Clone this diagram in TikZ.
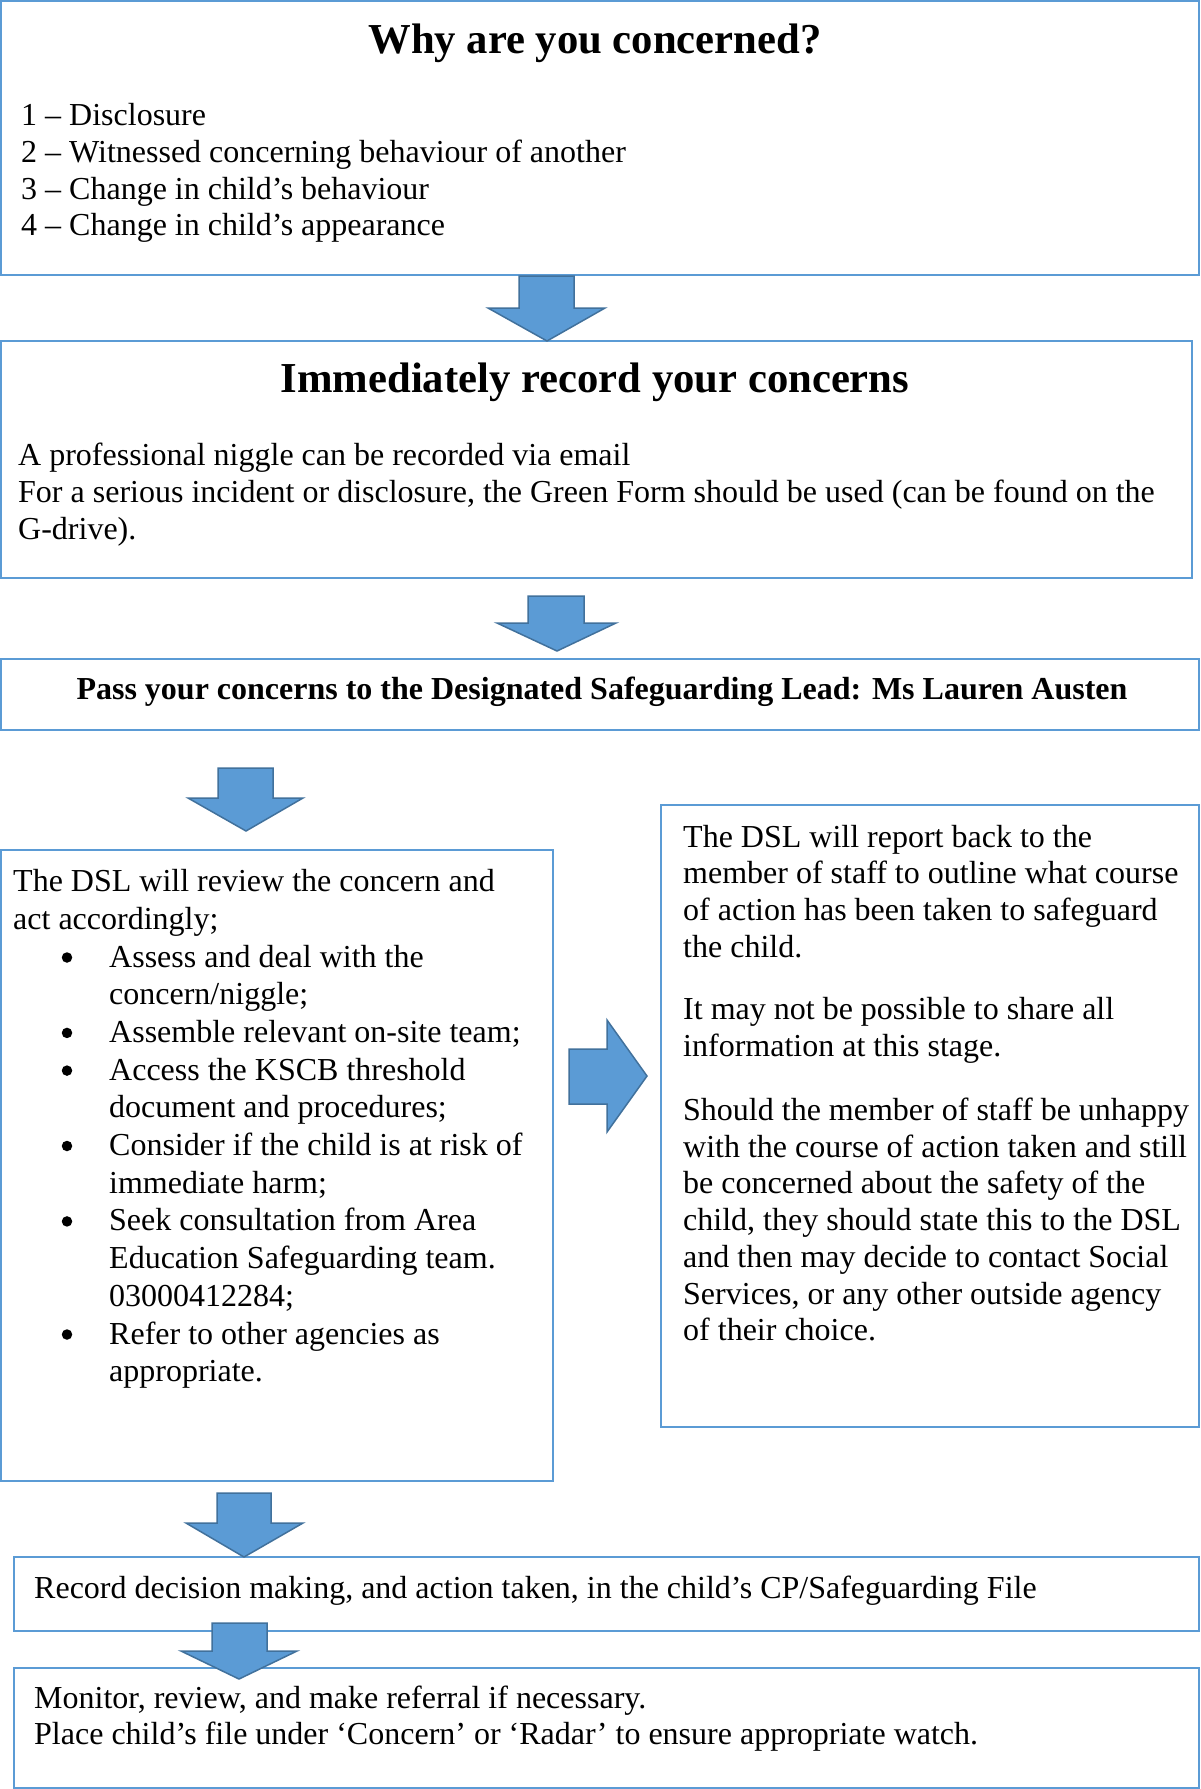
\documentclass[tikz,border=0pt]{standalone}
\usepackage{fontspec}
\setmainfont{Liberation Serif}
\definecolor{boxblue}{RGB}{91,155,213}
\definecolor{arrowfill}{RGB}{91,155,213}
\definecolor{arrowedge}{RGB}{65,113,156}
\tikzset{
  box/.style={draw=boxblue, line width=2.5pt, anchor=north west, inner sep=0pt, outer sep=0pt},
  txt/.style={anchor=base west, inner sep=0pt, font=\fontsize{32}{36.8}\selectfont},
  boldtxt/.style={anchor=base, inner sep=0pt, font=\fontsize{32}{36.8}\selectfont\bfseries},
  ttl/.style={anchor=base, inner sep=0pt, font=\fontsize{42.67}{49}\selectfont\bfseries},
  bulletdot/.style={circle, fill=black, draw=none, inner sep=0pt, minimum size=10.5pt},
  blk/.style={fill=arrowfill, draw=arrowedge, line width=1.5pt, line join=miter},
}
% shaft left, shaft right, top, shoulder, head left, head right, tip x, tip y
\newcommand\blkdown[8]{\draw[blk] (#1,#3) -- (#2,#3) -- (#2,#4) -- (#6,#4) -- (#7,#8) -- (#5,#4) -- (#1,#4) -- cycle;}
\begin{document}
\begin{tikzpicture}[x=1pt,y=-1pt]
\useasboundingbox (0,0) rectangle (1201,1789);
\fill[white] (0,0) rectangle (1201,1789);

% boxes
\node[box, minimum width=1198pt, minimum height=274pt] (b1) at (1,1) {};
\node[box, minimum width=1191pt, minimum height=237pt] (b2) at (1,341) {};
\node[box, minimum width=1198pt, minimum height=71pt] (b3) at (1,659) {};
\node[box, minimum width=552pt, minimum height=631pt] (b4) at (1,850) {};
\node[box, minimum width=538pt, minimum height=622pt] (b5) at (661,805) {};
\node[box, minimum width=1185pt, minimum height=74pt] (b6) at (14,1557) {};
\node[box, minimum width=1185pt, minimum height=120pt] (b7) at (14,1668) {};

% box 1
\node[ttl] (t1) at (595,53) {Why are you concerned?};
\foreach \t [count=\i] in {1 – Disclosure, 2 – Witnessed concerning behaviour of another, 3 – Change in child’s behaviour, 4 – Change in child’s appearance}
  \node[txt] (l1-\i) at (21,{125.5+36.8*(\i-1)}) {\t};

% box 2
\node[ttl] (t2) at (595,392) {Immediately record your concerns};
\node[txt] (l2-1) at (18,465) {A professional niggle can be recorded via email};
\node[txt] (l2-2) at (18,502) {For a serious incident or disclosure, the Green Form should be used (can be found on the};
\node[txt] (l2-3) at (18,539) {G-drive).};

% box 3
\node[boldtxt] (t3) at (602,699) {Pass your concerns to the Designated Safeguarding Lead: Ms Lauren Austen};

% box 4
\node[txt] (l4-1) at (13,891.5) {The DSL will review the concern and};
\node[txt] (l4-2) at (13,929.2) {act accordingly;};
\foreach \t [count=\i] in {Assess and deal with the, concern/niggle;, Assemble relevant on-site team;, Access the KSCB threshold, document and procedures;, Consider if the child is at risk of, immediate harm;, Seek consultation from Area, Education Safeguarding team., 03000412284;, Refer to other agencies as, appropriate.}
  \node[txt] (l4b-\i) at (109,{967+37.7*(\i-1)}) {\t};
\foreach \k/\n in {0/a,2/b,3/c,5/d,7/e,10/f}
  \node[bulletdot] (bul-\n) at (67,{957.5+37.7*\k}) {};

% box 5
\foreach \t [count=\i] in {The DSL will report back to the, member of staff to outline what course, of action has been taken to safeguard, the child.}
  \node[txt] (l5a-\i) at (683,{847+36.7*(\i-1)}) {\t};
\foreach \t [count=\i] in {It may not be possible to share all, information at this stage.}
  \node[txt] (l5b-\i) at (683,{1019.5+36.7*(\i-1)}) {\t};
\foreach \t [count=\i] in {Should the member of staff be unhappy, with the course of action taken and still, be concerned about the safety of the, {child, they should state this to the DSL}, and then may decide to contact Social, {Services, or any other outside agency}, of their choice.}
  \node[txt] (l5c-\i) at (683,{1120.5+36.7*(\i-1)}) {\t};

% box 6
\node[txt] (l6) at (34,1598) {Record decision making, and action taken, in the child’s CP/Safeguarding File};

% box 7
\node[txt] (l7-1) at (34,1708) {Monitor, review, and make referral if necessary.};
\node[txt] (l7-2) at (34,1744.5) {Place child’s file under ‘Concern’ or ‘Radar’ to ensure appropriate watch.};

% block arrows
\blkdown{519}{574}{276}{308}{488}{605}{547}{341}
\blkdown{528}{584}{596}{623}{497}{616}{557}{651}
\blkdown{218}{273}{768}{798}{188}{303}{246}{831}
\blkdown{217}{271}{1493}{1523}{186}{303}{244}{1557}
\blkdown{212}{267}{1623}{1651}{181}{297}{239}{1679}
\draw[blk] (569,1049) -- (607,1049) -- (607,1020) -- (647,1076) -- (607,1132) -- (607,1104) -- (569,1104) -- cycle;
\end{tikzpicture}
\end{document}
